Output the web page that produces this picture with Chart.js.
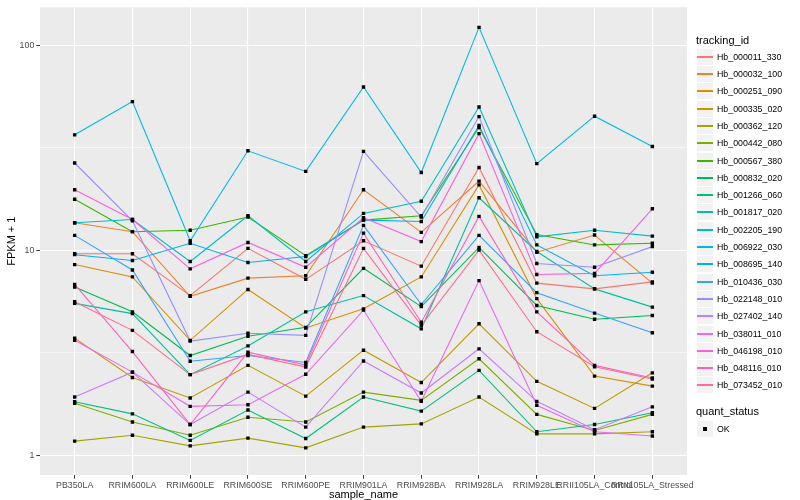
<!DOCTYPE html>
<html>
<head>
<meta charset="utf-8">
<script src="https://cdn.jsdelivr.net/npm/chart.js@4.4.1/dist/chart.umd.min.js"></script>
<style>
body { margin: 0; background: #fff; }
#wrap { position: relative; width: 800px; height: 500px; font-family: "Liberation Sans", Arial, sans-serif; }
#chart1 { position: absolute; left: 0; top: 0; }
.lg-title { position: absolute; left: 696px; font-size: 11px; color: #000; line-height: 13px; white-space: nowrap; }
.lg-key { position: absolute; left: 697px; width: 16px; height: 16px; background: #F2F2F2; }
.lg-line { position: absolute; left: 0; right: 0; top: 7px; height: 2px; }
.lg-pt { position: absolute; left: 6px; top: 6px; width: 4px; height: 4px; background: #000; }
.lg-text { position: absolute; left: 717px; font-size: 8.8px; color: #000; line-height: 10px; white-space: nowrap; }
</style>
</head>
<body>
<div id="wrap">
<canvas id="chart1" width="800" height="500"></canvas>
<div id="legend"></div>
</div>
<script>
var samples = ["PB350LA", "RRIM600LA", "RRIM600LE", "RRIM600SE", "RRIM600PE", "RRIM901LA",
	"RRIM928BA", "RRIM928LA", "RRIM928LE", "RRII105LA_Control", "RRII105LA_Stressed"];

var trackingIds = ["Hb_000011_330", "Hb_000032_100", "Hb_000251_090", "Hb_000335_020", "Hb_000362_120",
	"Hb_000442_080", "Hb_000567_380", "Hb_000832_020", "Hb_001266_060", "Hb_001817_020",
	"Hb_002205_190", "Hb_006922_030", "Hb_008695_140", "Hb_010436_030", "Hb_022148_010",
	"Hb_027402_140", "Hb_038011_010", "Hb_046198_010", "Hb_048116_010", "Hb_073452_010"];

var trackColors = ["#F8766D", "#EA8331", "#D89000", "#C09B00", "#A3A500",
	"#7CAE00", "#39B600", "#00BB4E", "#00BF7D", "#00C1A3",
	"#00BFC4", "#00BAE0", "#00B0F6", "#35A2FF", "#9590FF",
	"#C77CFF", "#E76BF3", "#FA62DB", "#FF62BC", "#FF6C91"];

// FPKM + 1 per sample
var hb_000011_330 = [9.6, 9.6, 6.0, 10.2, 7.2, 11.1, 8.35, 25.3, 6.9, 6.47, 7.0];
var hb_000032_100 = [13.6, 12.3, 5.95, 7.3, 7.5, 19.7, 12.2, 21.7, 9.77, 11.85, 6.9];
var hb_000251_090 = [8.5, 7.4, 3.63, 6.43, 4.17, 5.17, 7.4, 20.8, 5.8, 2.43, 2.17];
var hb_000335_020 = [3.72, 2.39, 1.90, 2.74, 1.94, 3.25, 2.26, 4.37, 2.29, 1.69, 2.52];
var hb_000362_120 = [1.17, 1.25, 1.11, 1.21, 1.085, 1.37, 1.42, 1.92, 1.27, 1.27, 1.30];
var hb_000442_080 = [1.79, 1.45, 1.25, 1.53, 1.45, 2.03, 1.85, 2.95, 1.58, 1.32, 1.58];
var hb_000567_380 = [17.7, 12.3, 12.5, 14.5, 9.4, 14.0, 14.7, 39.6, 11.9, 10.6, 10.8];
var hb_000832_020 = [6.6, 5.0, 3.06, 3.8, 4.2, 8.15, 5.3, 10.3, 5.37, 4.6, 4.8];
var hb_001266_060 = [1.82, 1.59, 1.18, 1.66, 1.205, 1.92, 1.64, 2.59, 1.30, 1.41, 1.61];
var hb_001817_020 = [5.5, 4.9, 2.47, 3.41, 5.0, 6.0, 4.13, 18.0, 9.85, 6.47, 5.27];
var hb_002205_190 = [13.6, 14.1, 8.8, 14.7, 8.8, 15.1, 17.3, 49.9, 11.6, 12.5, 11.7];
var hb_006922_030 = [36.5, 53, 11.1, 30.5, 24.2, 62.5, 23.9, 122, 26.4, 45, 32];
var hb_008695_140 = [9.5, 8.9, 10.8, 8.7, 9.3, 14.0, 13.8, 40.6, 10.6, 7.5, 7.8];
var hb_010436_030 = [11.8, 8.0, 2.87, 3.06, 2.83, 13.2, 5.43, 11.8, 6.2, 4.93, 3.95];
var hb_022148_010 = [26.6, 13.9, 3.6, 3.93, 3.84, 30.3, 14.5, 44.8, 8.6, 8.25, 10.4];
var hb_027402_140 = [1.92, 2.54, 1.41, 2.03, 1.37, 2.88, 2.01, 3.30, 1.83, 1.33, 1.72];
var hb_038011_010 = [3.63, 2.54, 1.73, 1.76, 2.48, 5.1, 1.83, 7.1, 1.75, 1.30, 1.24];
var hb_046198_010 = [19.7, 14.1, 8.1, 10.9, 8.25, 14.4, 11.0, 37.0, 7.6, 7.7, 15.9];
var hb_048116_010 = [6.8, 3.2, 1.41, 3.18, 2.75, 12.1, 4.45, 14.6, 5.0, 2.74, 2.38];
var hb_073452_010 = [5.6, 4.06, 2.47, 3.1, 2.69, 10.2, 4.3, 10.0, 4.0, 2.70, 2.35];

var fpkmList = [hb_000011_330, hb_000032_100, hb_000251_090, hb_000335_020, hb_000362_120,
	hb_000442_080, hb_000567_380, hb_000832_020, hb_001266_060, hb_001817_020,
	hb_002205_190, hb_006922_030, hb_008695_140, hb_010436_030, hb_022148_010,
	hb_027402_140, hb_038011_010, hb_046198_010, hb_048116_010, hb_073452_010];

var yMajor = [1, 10, 100];
var yMinor = [3.1623, 31.623];

var isMajor = function(v) {
	return yMajor.indexOf(v) >= 0;
};

var toPoints = function(arr) {
	return arr.map(function(v, i) { return { x: i, y: v }; });
};

// points first so they sit on top, then lines (last group on top)
var datasets = [];
fpkmList.forEach(function(arr, k) {
	datasets.push({
		label: trackingIds[k] + " OK",
		data: toPoints(arr),
		showLine: false,
		pointStyle: 'rect',
		pointRadius: 2.4,
		pointBackgroundColor: '#000',
		pointBorderWidth: 0
	});
});
for (var k = fpkmList.length - 1; k >= 0; k--) {
	datasets.push({
		label: trackingIds[k],
		data: toPoints(fpkmList[k]),
		borderColor: trackColors[k],
		borderWidth: 1.1,
		pointRadius: 0,
		tension: 0
	});
}

var panelBg = {
	id: 'panelBg',
	beforeDraw: function(chart) {
		var a = chart.chartArea, c = chart.ctx;
		c.save();
		c.fillStyle = '#EBEBEB';
		c.fillRect(a.left, a.top, a.right - a.left, a.bottom - a.top);
		c.restore();
	}
};

var tickFont = { family: '"Liberation Sans", Arial, sans-serif', size: 8.8 };
var titleFont = { family: '"Liberation Sans", Arial, sans-serif', size: 11 };

var ctx = document.getElementById('chart1').getContext('2d');
var chart = new Chart(ctx, {
	type: 'line',
	data: { datasets: datasets },
	options: {
		responsive: false,
		animation: false,
		layout: { padding: { left: 0, right: 113, top: 4, bottom: 0 } },
		plugins: { legend: { display: false }, tooltip: { enabled: false } },
		scales: {
			x: {
				type: 'linear',
				min: -0.6,
				max: 10.6,
				afterBuildTicks: function(scale) {
					scale.ticks = samples.map(function(s, i) { return { value: i }; });
				},
				afterFit: function(scale) { scale.height = 25; },
				ticks: {
					autoSkip: false,
					maxRotation: 0,
					padding: 2,
					color: '#4D4D4D',
					font: tickFont,
					callback: function(v) { return samples[v]; }
				},
				grid: { color: '#FFFFFF', lineWidth: 1.1, tickLength: 3.7, tickColor: '#333333', tickWidth: 1 },
				border: { display: false },
				title: { display: true, text: 'sample_name', color: '#000', font: titleFont, padding: { top: 0, bottom: -1.5 } }
			},
			y: {
				type: 'logarithmic',
				min: 0.80,
				max: 152.9,
				afterBuildTicks: function(scale) {
					scale.ticks = [1, 3.1623, 10, 31.623, 100].map(function(v) { return { value: v }; });
				},
				afterFit: function(scale) { scale.width = 40; },
				ticks: {
					padding: 2,
					color: '#4D4D4D',
					font: tickFont,
					callback: function(v) { return isMajor(v) ? String(v) : ''; }
				},
				grid: {
					color: '#FFFFFF',
					lineWidth: function(c) { return isMajor(c.tick.value) ? 1.1 : 0.55; },
					tickLength: 3.7,
					tickColor: function(c) { return isMajor(c.tick.value) ? '#333333' : 'rgba(0,0,0,0)'; },
					tickWidth: 1
				},
				border: { display: false },
				title: { display: true, text: 'FPKM + 1', color: '#000', font: titleFont, padding: { top: 5, bottom: 0 } }
			}
		}
	},
	plugins: [panelBg]
});

// ggplot style legend
var legendEl = document.getElementById('legend');
var html = '<div class="lg-title" style="top:34px">tracking_id</div>';
trackingIds.forEach(function(id, i) {
	var cy = Math.round(56.7 + 17.3 * i);
	html += '<div class="lg-key" style="top:' + (cy - 8) + 'px"><div class="lg-line" style="background:' + trackColors[i] + '"></div></div>';
	html += '<div class="lg-text" style="top:' + (cy - 5) + 'px">' + id + '</div>';
});
html += '<div class="lg-title" style="top:405px">quant_status</div>';
html += '<div class="lg-key" style="top:421px"><div class="lg-pt"></div></div>';
html += '<div class="lg-text" style="top:424px">OK</div>';
legendEl.innerHTML = html;
</script>
</body>
</html>
